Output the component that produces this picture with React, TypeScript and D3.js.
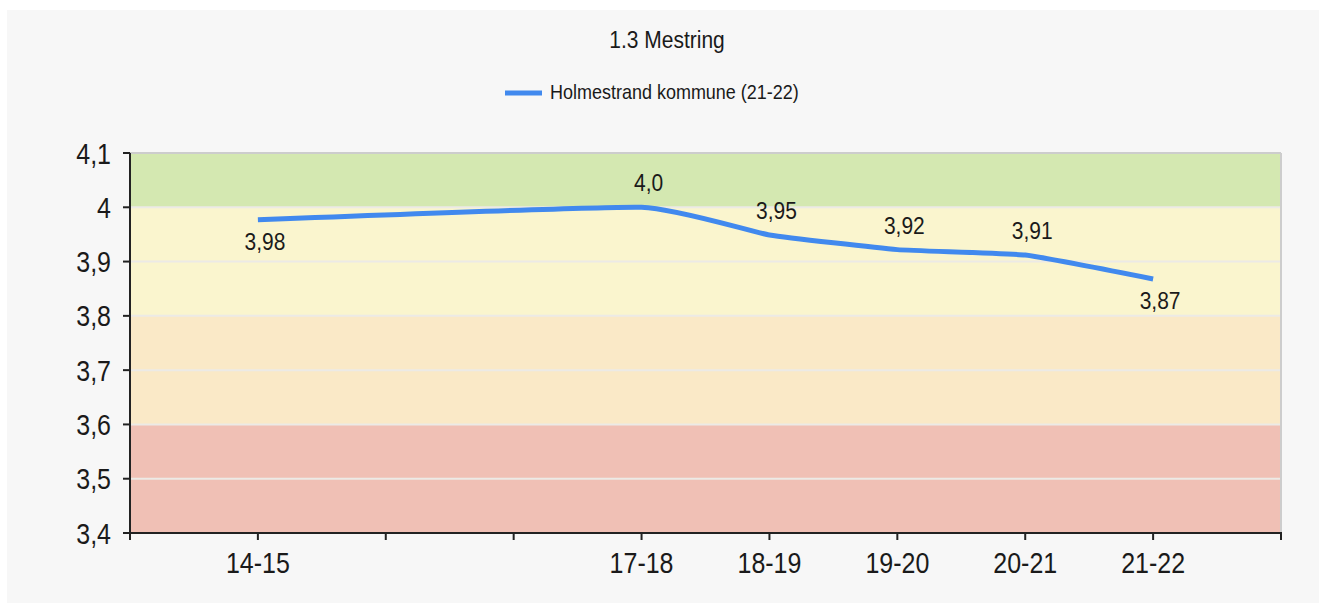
import React from "react";
import * as d3 from "d3";

const title = "1.3 Mestring";
const seriesName = "Holmestrand kommune (21-22)";
const categories = ["14-15", "15-16", "16-17", "17-18", "18-19", "19-20", "20-21", "21-22"];
const xTickLabels = ["14-15", "", "", "17-18", "18-19", "19-20", "20-21", "21-22"];
const values: (number | null)[] = [3.977, null, null, 4.0, 3.949, 3.922, 3.912, 3.868];
const valueLabels = ["3,98", "", "", "4,0", "3,95", "3,92", "3,91", "3,87"];
const labelAbove = [false, false, false, true, true, true, true, false];
const yTicks = [3.4, 3.5, 3.6, 3.7, 3.8, 3.9, 4.0, 4.1];
const yTickLabels = ["3,4", "3,5", "3,6", "3,7", "3,8", "3,9", "4", "4,1"];
const bands = [
  { from: 4.0, to: 4.1, color: "#D4E8B1" },
  { from: 3.8, to: 4.0, color: "#FAF5CE" },
  { from: 3.6, to: 3.8, color: "#FAE9C7" },
  { from: 3.4, to: 3.6, color: "#F0C0B5" },
];

const W = 1319;
const H = 603;
const left = 130;
const right = 1281;
const top = 153;
const bottom = 533;
const FONT = "'Liberation Sans', Arial, sans-serif";
const LINE_COLOR = "#4189EE";

function SText({ x, y, size, sy, anchor, children, fill = "#1a1a1a" }: any) {
  return (
    <text
      transform={`translate(${x},${y}) scale(1,${sy})`}
      fontSize={size}
      fontFamily={FONT}
      textAnchor={anchor}
      fill={fill}
    >
      {children}
    </text>
  );
}

export default function App() {
  const x = d3.scaleLinear().domain([0, categories.length + 1]).range([left, right]);
  const y = d3.scaleLinear().domain([3.4, 4.1]).range([bottom, top]);
  const pts = values
    .map((v, i) => ({ v, i }))
    .filter((d) => d.v !== null) as { v: number; i: number }[];
  const line = d3
    .line<{ v: number; i: number }>()
    .x((d) => x(d.i + 1))
    .y((d) => y(d.v))
    .curve(d3.curveCardinal.tension(0.6));
  const xTicks = d3.range(0, categories.length + 2);

  return (
    <svg
      width={W}
      height={H}
      style={{ position: "absolute", left: 0, top: 0 }}
    >
      <rect x={0} y={0} width={W} height={H} fill="#ffffff" />
      <rect x={7} y={10} width={W - 7} height={H - 10} fill="#F7F7F7" />
      <SText x={667} y={48} size={21} sy={1.1} anchor="middle">{title}</SText>
      <line x1={505} x2={542} y1={93} y2={93} stroke={LINE_COLOR} strokeWidth={5} />
      <SText x={550} y={99} size={18} sy={1.15} anchor="start">{seriesName}</SText>

      {bands.map((b, i) => (
        <rect
          key={i}
          x={left}
          y={y(b.to)}
          width={right - left}
          height={y(b.from) - y(b.to)}
          fill={b.color}
        />
      ))}
      {yTicks.slice(1, -1).map((t, i) => (
        <line key={i} x1={left} x2={right} y1={y(t)} y2={y(t)} stroke="#ECEAE6" strokeWidth={2} />
      ))}
      <line x1={left} x2={right} y1={top} y2={top} stroke="#CDCDCD" strokeWidth={2} />
      <line x1={right} x2={right} y1={top} y2={bottom} stroke="#CDCDCD" strokeWidth={2} />

      <path d={line(pts) || ""} fill="none" stroke={LINE_COLOR} strokeWidth={5} strokeLinecap="butt" strokeLinejoin="round" />

      {pts.map((d) => (
        <SText
          key={d.i}
          x={x(d.i + 1) + 7}
          y={y(d.v) + (labelAbove[d.i] ? -16 : 30)}
          size={21}
          sy={1.15}
          anchor="middle"
        >
          {valueLabels[d.i]}
        </SText>
      ))}

      <line x1={left} x2={left} y1={top} y2={bottom + 1} stroke="#222" strokeWidth={2} />
      {yTicks.map((t, i) => (
        <g key={i}>
          <line x1={left - 7} x2={left} y1={y(t)} y2={y(t)} stroke="#222" strokeWidth={2} />
          <SText x={111} y={y(t) + 10.5} size={25} sy={1.17} anchor="end">{yTickLabels[i]}</SText>
        </g>
      ))}
      <line x1={left - 1} x2={right + 1} y1={bottom} y2={bottom} stroke="#222" strokeWidth={2} />
      {xTicks.map((t) => (
        <line key={t} x1={x(t)} x2={x(t)} y1={bottom} y2={bottom + 7} stroke="#222" strokeWidth={2} />
      ))}
      {xTickLabels.map((l, i) =>
        l ? (
          <SText key={i} x={x(i + 1)} y={573} size={25} sy={1.17} anchor="middle">{l}</SText>
        ) : null
      )}
    </svg>
  );
}
